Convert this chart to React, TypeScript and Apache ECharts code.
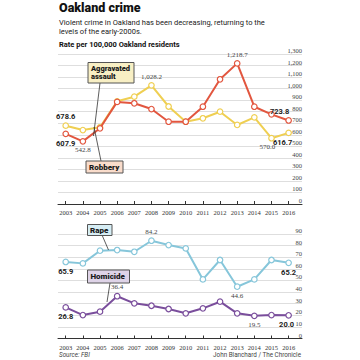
import React, { useEffect, useRef } from "react";
import * as echarts from "echarts";

const years = [2003, 2004, 2005, 2006, 2007, 2008, 2009, 2010, 2011, 2012, 2013, 2014, 2015, 2016];
const robbery = [607.9, 542.8, 656, 885, 873, 823, 713, 713, 843, 1081, 1218.7, 843, 777, 723.8];
const assault = [678.6, 641, 665, 890, 930, 1028.2, 845, 713, 743, 800, 685, 751, 570.0, 616.7];
const rape = [65.9, 64.7, 75.6, 76.2, 74.7, 84.2, 80.5, 77.6, 50.9, 67.6, 44.6, 50.9, 67.6, 65.2];
const homicide = [26.8, 20.2, 23.1, 36.4, 30.3, 28.2, 25.4, 21.7, 26.0, 31.7, 21.7, 19.5, 20.2, 20.0];

const topAxisMax = 1300;
const topAxisStep = 100;
const bottomAxisMax = 90;
const bottomAxisStep = 10;

type LabelSpec = { i: number; pos: "top" | "bottom"; bold?: boolean; dx?: number };
const robberyLabels: LabelSpec[] = [
  { i: 0, pos: "bottom", bold: true },
  { i: 1, pos: "bottom" },
  { i: 10, pos: "top" },
  { i: 13, pos: "top", bold: true, dx: -9 },
];
const assaultLabels: LabelSpec[] = [
  { i: 0, pos: "top", bold: true },
  { i: 5, pos: "top" },
  { i: 12, pos: "bottom", dx: -4 },
  { i: 13, pos: "bottom", bold: true, dx: -6 },
];
const rapeLabels: LabelSpec[] = [
  { i: 0, pos: "bottom", bold: true },
  { i: 5, pos: "top" },
  { i: 10, pos: "bottom" },
  { i: 13, pos: "bottom", bold: true },
];
const homicideLabels: LabelSpec[] = [
  { i: 0, pos: "bottom", bold: true },
  { i: 3, pos: "top" },
  { i: 11, pos: "bottom" },
  { i: 13, pos: "bottom", bold: true, dx: -2 },
];

const fmt = (v: number) =>
  v.toLocaleString("en-US", { minimumFractionDigits: 1, maximumFractionDigits: 1 });

const SERIF = "'Liberation Serif', 'DejaVu Serif', serif";
const SANS = "Roboto, 'Liberation Sans', sans-serif";

function mkSeries(name: string, vals: number[], color: string, idx: number, labels: LabelSpec[], z: number) {
  return {
    name,
    type: "line",
    xAxisIndex: idx,
    yAxisIndex: idx,
    z,
    symbol: "circle",
    symbolSize: 5.5,
    lineStyle: { color, width: 2 },
    itemStyle: { color: "#ffffff", borderColor: color, borderWidth: 1.2 },
    label: {
      show: false,
      formatter: (p: any) => fmt(p.value[1]),
    },
    data: vals.map((v, i) => {
      const l = labels.find((s) => s.i === i);
      const item: any = { value: [years[i], v] };
      if (l) {
        item.label = {
          show: true,
          position: l.pos,
          distance: 2,
          offset: [l.dx || 0, 0],
          fontFamily: l.bold ? SANS : SERIF,
          fontWeight: l.bold ? "bold" : "normal",
          fontSize: l.bold ? 7.5 : 7,
          color: l.bold ? "#222" : "#444",
        };
      }
      return item;
    }),
  };
}

function xAxisCfg(idx: number) {
  return {
    type: "value",
    gridIndex: idx,
    min: 2002.55,
    max: 2016.78,
    axisLine: { show: true, onZero: false, lineStyle: { color: "#333", width: 1 } },
    axisTick: { show: true, inside: true, length: 3, customValues: years, lineStyle: { color: "#333" } },
    axisLabel: {
      show: true,
      customValues: years,
      formatter: (v: number) => String(v),
      fontFamily: SERIF,
      fontSize: 6.5,
      color: "#333",
      margin: 5,
    },
    splitLine: { show: false },
  };
}

function yAxisCfg(idx: number, max: number, step: number) {
  return {
    type: "value",
    gridIndex: idx,
    position: "right",
    min: 0,
    max,
    interval: step,
    axisLine: { show: false },
    axisTick: { show: false },
    axisLabel: {
      inside: true,
      align: "right",
      verticalAlign: "bottom",
      margin: 0,
      fontFamily: SERIF,
      fontSize: 6.5,
      color: "#444",
    },
    splitLine: { show: true, lineStyle: { color: "#dedede", width: 1 } },
  };
}

function box(x: number, y: number, w: number, h: number, fill: string) {
  return {
    type: "rect",
    z: 100,
    shape: { x, y, width: w, height: h },
    style: { fill, stroke: "#555", lineWidth: 1 },
  };
}
function boxText(x: number, y: number, text: string, size = 8) {
  return {
    type: "text",
    z: 101,
    x,
    y,
    style: {
      text,
      fontFamily: SANS,
      fontWeight: 900,
      fontSize: size,
      lineHeight: size + 0.5,
      fill: "#1a1a1a",
      textVerticalAlign: "top",
    },
  };
}
function leader(x1: number, y1: number, x2: number, y2: number) {
  return {
    type: "line",
    z: 99,
    shape: { x1, y1, x2, y2 },
    style: { stroke: "#333", lineWidth: 0.8 },
  };
}

export default function App() {
  const ref = useRef<HTMLDivElement>(null);
  useEffect(() => {
    if (!ref.current) return;
    const chart = echarts.init(ref.current, undefined, { renderer: "svg" });
    chart.setOption({
      animation: false,
      backgroundColor: "#ffffff",
      grid: [
        { left: 58, width: 244, top: 54, height: 150 },
        { left: 58, width: 244, top: 234, height: 104.5 },
      ],
      xAxis: [xAxisCfg(0), xAxisCfg(1)],
      yAxis: [yAxisCfg(0, topAxisMax, topAxisStep), yAxisCfg(1, bottomAxisMax, bottomAxisStep)],
      series: [
        mkSeries("Aggravated assault", assault, "#efcf52", 0, assaultLabels, 2),
        mkSeries("Robbery", robbery, "#e2563f", 0, robberyLabels, 3),
        mkSeries("Rape", rape, "#86c6da", 1, rapeLabels, 2),
        mkSeries("Homicide", homicide, "#7a4e9c", 1, homicideLabels, 3),
      ],
      graphic: [
        {
          type: "text",
          x: 59,
          y: 7.5,
          style: { text: "Oakland crime", fontFamily: SANS, fontWeight: 900, fontSize: 12.5, fill: "#111", textVerticalAlign: "middle" },
        },
        {
          type: "text",
          x: 59,
          y: 22.7,
          style: { text: "Violent crime in Oakland has been decreasing, returning to the", fontFamily: SANS, fontSize: 7.5, fill: "#222", textVerticalAlign: "middle" },
        },
        {
          type: "text",
          x: 59,
          y: 31.3,
          style: { text: "levels of the early-2000s.", fontFamily: SANS, fontSize: 7.5, fill: "#222", textVerticalAlign: "middle" },
        },
        {
          type: "text",
          x: 59,
          y: 44,
          style: { text: "Rate per 100,000 Oakland residents", fontFamily: SANS, fontWeight: "bold", fontSize: 7.5, fill: "#111", textVerticalAlign: "middle" },
        },
        {
          type: "text",
          x: 59,
          y: 355,
          style: { text: "Source: FBI", fontFamily: SANS, fontStyle: "italic", fontSize: 6.3, fill: "#444", textVerticalAlign: "middle" },
        },
        {
          type: "text",
          x: 301,
          y: 355,
          style: { text: "John Blanchard / The Chronicle", fontFamily: SANS, fontSize: 6.3, fill: "#444", textAlign: "right", textVerticalAlign: "middle" },
        },
        leader(100, 83, 93.5, 136),
        leader(94, 127, 101, 161),
        leader(102, 235, 108.5, 250),
        leader(110, 283, 107, 302),
        box(88, 62.5, 46, 20.5, "#f8efc4"),
        boxText(91, 64.5, "Aggravated\nassault", 7.5),
        box(86, 161, 37, 12, "#f9dccb"),
        boxText(89, 163, "Robbery"),
        box(87.5, 224.5, 24.5, 11, "#d6edf4"),
        boxText(90, 226, "Rape"),
        box(87.5, 270, 42, 13, "#ded3e7"),
        boxText(90.5, 272.5, "Homicide"),
      ],
    });
    return () => chart.dispose();
  }, []);
  return <div ref={ref} style={{ position: "absolute", left: 0, top: 0, width: 360, height: 360 }} />;
}
